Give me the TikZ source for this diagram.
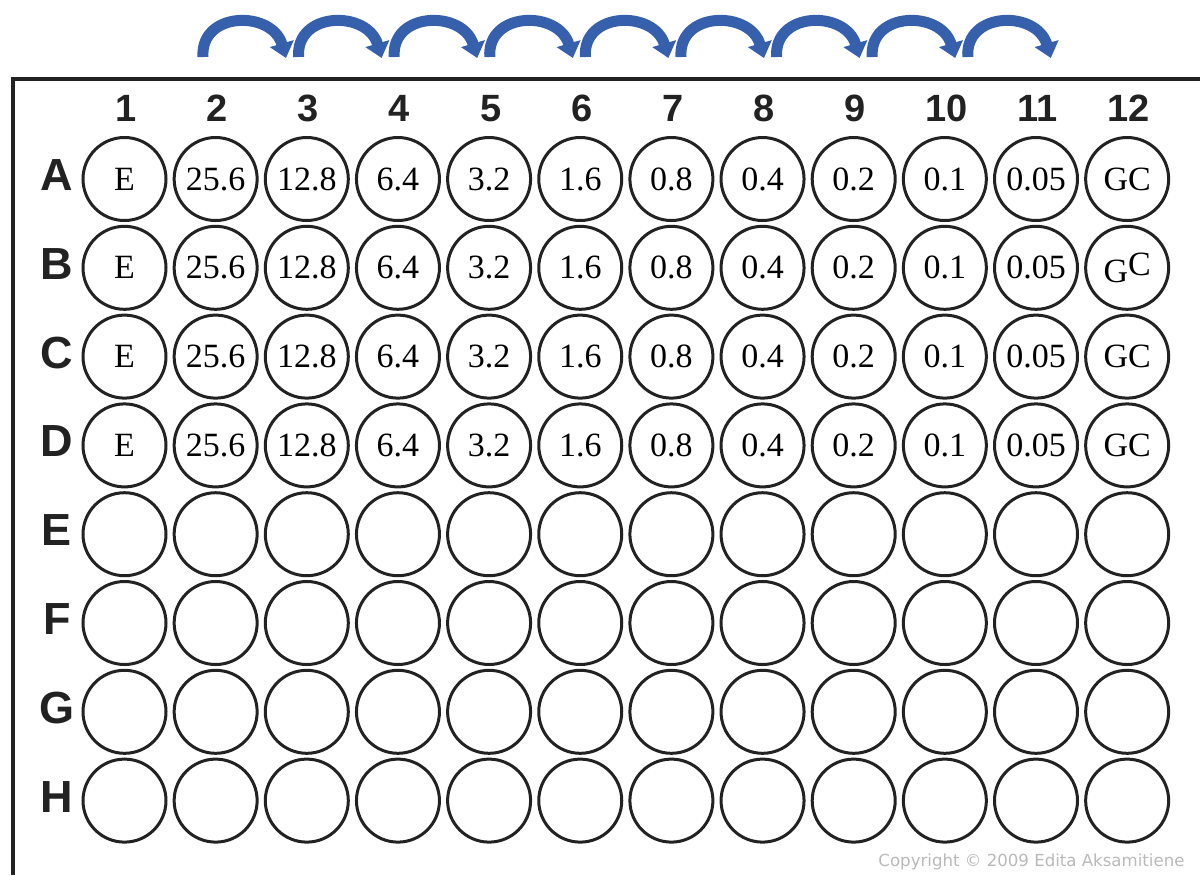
\documentclass[tikz,border=0pt]{standalone}
\usepackage{fontspec}
\setmainfont{Liberation Serif}
\newfontfamily\labelfont{Liberation Sans}
\newfontfamily\copyfont{DejaVu Sans}
\usetikzlibrary{arrows.meta}
\definecolor{arrowblue}{RGB}{55,96,172}
\definecolor{plate}{RGB}{34,34,34}
\definecolor{copygray}{RGB}{185,185,185}

\begin{document}
\begin{tikzpicture}[x=0.5pt,y=-0.5pt,
  well/.style={circle,draw=plate,line width=1.5pt,minimum size=41.5pt,
    inner sep=0pt,font=\fontsize{17}{19}\selectfont},
  collabel/.style={font=\labelfont\bfseries\fontsize{19}{21}\selectfont,text=plate},
  rowlabel/.style={font=\labelfont\bfseries\fontsize{22.5}{24}\selectfont,text=plate},
  dilution/.style={draw=arrowblue,line width=5.5pt,
    -{Triangle[length=7.5pt,width=12pt]}},
  copyright/.style={font=\copyfont\fontsize{8.3}{10}\selectfont,text=copygray}]
\useasboundingbox (0,0) rectangle (1200,875);

\draw[plate,line width=2pt] (12.5,875) -- (12.5,79) -- (1200,79);

\foreach \c in {1,...,12}
  \node[collabel] (col\c) at ({126+91.15*(\c-1)},108.5) {\c};

\foreach \r/\gc [count=\i from 0] in {A/GC,B/{G\raisebox{3.5pt}{C}},C/GC,D/GC} {
  \node[rowlabel] (row\r) at (57,{175+88.8*\i}) {\r};
  \foreach \t [count=\c] in {E,25.6,12.8,6.4,3.2,1.6,0.8,0.4,0.2,0.1,0.05,\gc}
    \node[well] (\r\c) at ({124.5+91.15*(\c-1)},{179+88.8*\i}) {\t};
}
\foreach \r [count=\i from 4] in {E,F,G,H} {
  \node[rowlabel] (row\r) at (57,{175+88.8*\i}) {\r};
  \foreach \c in {1,...,12}
    \node[well] (\r\c) at ({124.5+91.15*(\c-1)},{179+88.8*\i}) {};
}

\foreach \k in {0,...,8} {
  \coordinate (foot\k) at ({203+95.6*\k},57);
  \coordinate (tip\k) at ({286+95.6*\k},58);
  \draw[dilution] (foot\k) .. controls +(-3,-46) and +(-14,-48) .. (tip\k);
}

\node[copyright] (copy) at (1031.5,862) {Copyright © 2009 Edita Aksamitiene};
\end{tikzpicture}
\end{document}
